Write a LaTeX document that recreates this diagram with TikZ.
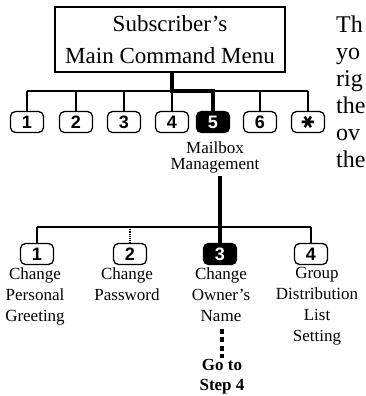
\documentclass[tikz,border=0pt]{standalone}
\usepackage{fontspec}
\setmainfont{Liberation Serif}
\newfontfamily\keyfont{Liberation Sans}
\newfontfamily\symfont{DejaVu Sans}
\begin{document}
\begin{tikzpicture}[x=1pt,y=-1pt,
  key/.style={draw, line width=1.3pt, rounded corners=5pt, minimum width=33pt,
    minimum height=21pt, inner sep=0pt, font=\keyfont\bfseries\fontsize{18}{18}\selectfont},
  keyon/.style={key, fill=black, text=white},
  wire/.style={line width=1.2pt},
  trunk/.style={line width=4pt, line join=miter},
  lbl/.style={align=center, inner sep=0pt, anchor=north, font=\fontsize{17}{21}\selectfont},
  dotline/.style={line width=4.5pt, dash pattern=on 5pt off 3.5pt},
]
\path[fill=white] (0,0) rectangle (365,396);
\useasboundingbox (0,0) rectangle (365,396);

% main menu box
\node[draw, line width=1.2pt, minimum width=230pt, minimum height=65pt, inner sep=0pt,
  align=center, font=\fontsize{23}{32}\selectfont] (menu) at (170,39.5)
  {Subscriber's\\Main Command Menu};

% first row of keys
\node[key]   (k1) at (27,122)  {1};
\node[key]   (k2) at (76,122)  {2};
\node[key]   (k3) at (124,122) {3};
\node[key]   (k4) at (172,122) {4};
\node[keyon] (k5) at (213,122) {5};
\node[key]   (k6) at (260,122) {6};
\node[key]   (k7) at (308,122) {\symfont\fontsize{17}{17}\selectfont\rotatebox{90}{✱}};

\coordinate (bus1) at (0,91);
\draw[wire] (k1 |- bus1) -- (k7 |- bus1);
\foreach \k in {k1,k2,k3,k4,k6,k7} \draw[wire] (\k |- bus1) -- (\k.north);
\draw[trunk] (menu.south -| k4) -- (k4 |- bus1) -- (k5 |- bus1) -- (k5.north);

\node[lbl, font=\fontsize{17}{16}\selectfont] (mb) at (215,142) {Mailbox\\Management};

% second row of keys
\node[key]   (m1) at (37,254)  {1};
\node[key]   (m2) at (130,254) {2};
\node[keyon] (m3) at (220,254) {3};
\node[key]   (m4) at (311,254) {4};

\coordinate (bus2) at (0,227);
\draw[wire] (m1 |- bus2) -- (m4 |- bus2);
\draw[wire] (m1 |- bus2) -- (m1.north);
\draw[wire] (m4 |- bus2) -- (m4.north);
\draw[wire, densely dotted] (m2 |- bus2) -- (m2.north);
\draw[trunk] ([yshift=-2pt]mb.south -| m3) -- (m3.north);

% labels of second row
\node[lbl] (l1) at (35,267.5)  {Change\\Personal\\Greeting};
\node[lbl] (l2) at (127,267.5) {Change\\Password};
\node[lbl] (l3) at (221,267.5) {Change\\Owner's\\Name};
\node[lbl] (l4) at (317,267.5) {Group\\Distribution\\List\\Setting};

\node[lbl, font=\bfseries\fontsize{17}{20}\selectfont] (go) at (222,359) {Go to\\Step 4};
\draw[dotline] ([yshift=-7pt]l3.south -| go) -- ([yshift=1pt]go.north);

% cut-off running text at the right edge
\node[align=left, anchor=north west, inner sep=0pt, font=\fontsize{24}{27}\selectfont]
  (side) at (336,15.7) {Th\\yo\\rig\\the\\ov\\the};
\end{tikzpicture}
\end{document}
